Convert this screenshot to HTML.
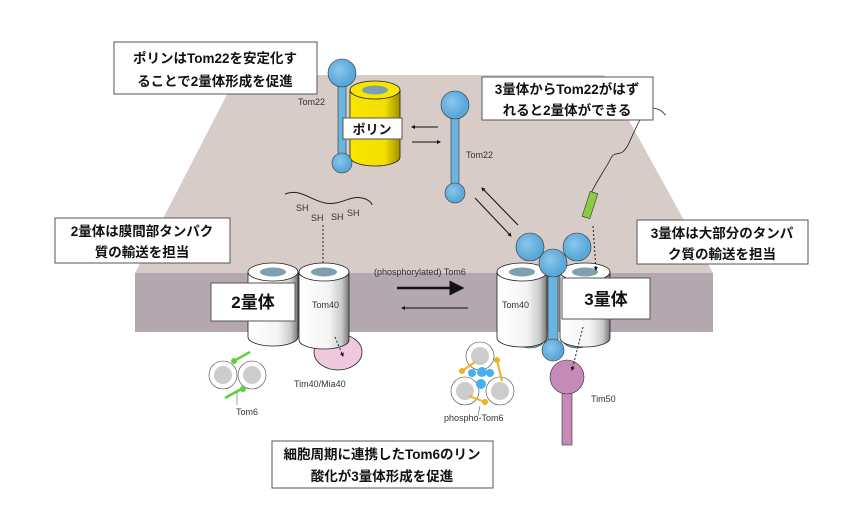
<!DOCTYPE html>
<html><head><meta charset="utf-8"><style>
body{margin:0;background:#fff}
svg{display:block}
text{font-family:"Liberation Sans","Noto Sans CJK JP",sans-serif}
.jp{font-family:"Liberation Sans","Noto Sans CJK JP",sans-serif;font-weight:bold;fill:#111}
.lb{font-size:9px;fill:#333}
</style></head><body>
<svg width="860" height="509" viewBox="0 0 860 509" xmlns="http://www.w3.org/2000/svg">
<defs>
<linearGradient id="cyl" x1="0" x2="1"><stop offset="0" stop-color="#fff"/><stop offset="0.6" stop-color="#f4f4f4"/><stop offset="0.85" stop-color="#ccc"/><stop offset="1" stop-color="#777"/></linearGradient>
<linearGradient id="yel" x1="0" x2="1"><stop offset="0" stop-color="#f7e600"/><stop offset="0.7" stop-color="#f2df00"/><stop offset="1" stop-color="#a09000"/></linearGradient>
<radialGradient id="blue" cx="0.4" cy="0.4"><stop offset="0" stop-color="#8cc6ec"/><stop offset="1" stop-color="#5aa8d8"/></radialGradient>
<marker id="ah" markerWidth="6" markerHeight="6" refX="5" refY="3" orient="auto"><path d="M0,0L6,3L0,6z" fill="#111"/></marker>
<marker id="ahb" markerWidth="4" markerHeight="4" refX="3" refY="2" orient="auto"><path d="M0,0L4,2L0,4z" fill="#111"/></marker>
</defs>
<!-- membrane -->
<polygon points="237,75 604,75 713,273 135,273" fill="#d7ccc7"/>
<rect x="135" y="273" width="578" height="59" fill="#b3a8b0"/>

<!-- Porin -->
<path d="M350,90 v67 a25,9 0 0 0 50,0 v-67z" fill="url(#yel)" stroke="#222" stroke-width="0.8"/>
<ellipse cx="375" cy="90" rx="25" ry="9" fill="#f7e600" stroke="#222" stroke-width="0.8"/>
<ellipse cx="375" cy="90" rx="13" ry="4.5" fill="#7f9fae"/>
<!-- Tom22 left -->
<rect x="338" y="75" width="8" height="88" fill="#6ab4e0" stroke="#333" stroke-width="0.6"/>
<circle cx="342" cy="73" r="14" fill="url(#blue)" stroke="#333" stroke-width="0.6"/>
<circle cx="342" cy="163" r="10" fill="url(#blue)" stroke="#333" stroke-width="0.6"/>
<text x="298" y="105" class="lb">Tom22</text>
<!-- Tom22 middle -->
<rect x="451" y="107" width="8" height="86" fill="#6ab4e0" stroke="#333" stroke-width="0.6"/>
<circle cx="455" cy="105" r="14" fill="url(#blue)" stroke="#333" stroke-width="0.6"/>
<circle cx="455" cy="193" r="10" fill="url(#blue)" stroke="#333" stroke-width="0.6"/>
<text x="466" y="158" class="lb">Tom22</text>
<line x1="438" y1="127" x2="412" y2="127" stroke="#111" marker-end="url(#ahb)"/>
<line x1="412" y1="142" x2="440" y2="142" stroke="#111" marker-end="url(#ahb)"/>
<line x1="518" y1="225" x2="482" y2="188" stroke="#111" marker-end="url(#ahb)"/>
<line x1="475" y1="198" x2="511" y2="236" stroke="#111" marker-end="url(#ahb)"/>

<!-- SH chain -->
<path d="M285,194 C300,188 310,200 325,203 C340,206 350,195 362,198 C368,199 372,203 372,205" fill="none" stroke="#222"/>
<g class="lb" font-size="8"><text x="296" y="211">SH</text><text x="311" y="221">SH</text><text x="331" y="220">SH</text><text x="347" y="216">SH</text></g>
<line x1="323" y1="225" x2="323" y2="268" stroke="#222" stroke-dasharray="2,2" marker-end="url(#ahb)"/>

<!-- 2-mer -->
<g stroke="#222" stroke-width="0.8">
<path d="M248,272 v65 a25,9 0 0 0 50,0 v-65z" fill="url(#cyl)"/>
<ellipse cx="273" cy="272" rx="25" ry="9" fill="#fff"/>
<ellipse cx="273" cy="272" rx="13" ry="4.5" fill="#7f9fae" stroke="none"/>
<ellipse cx="338" cy="352" rx="24" ry="18" fill="#f0c8e0"/>
<path d="M299,272 v68 a25,9 0 0 0 50,0 v-68z" fill="url(#cyl)"/>
<ellipse cx="324" cy="272" rx="25" ry="9" fill="#fff"/>
<ellipse cx="324" cy="272" rx="13" ry="4.5" fill="#7f9fae" stroke="none"/>
</g>
<text x="312" y="308" class="lb">Tom40</text>
<line x1="335" y1="337" x2="343" y2="356" stroke="#222" stroke-dasharray="2,2" marker-end="url(#ahb)"/>
<text x="294" y="387" class="lb">Tim40/Mia40</text>
<!-- Tom6 dimer -->
<g stroke="#444" stroke-width="0.6">
<circle cx="223" cy="375" r="14" fill="#fff"/><circle cx="223" cy="375" r="9" fill="#ccc" stroke="none"/>
<circle cx="252" cy="375" r="14" fill="#fff"/><circle cx="252" cy="375" r="9" fill="#ccc" stroke="none"/>
</g>
<g stroke="#5fd03a" stroke-width="2.5"><line x1="232" y1="362" x2="250" y2="352"/><line x1="225" y1="398" x2="243" y2="388"/></g>
<circle cx="234" cy="361" r="3" fill="#5fd03a"/><circle cx="243" cy="389" r="3" fill="#5fd03a"/>
<line x1="237" y1="392" x2="237" y2="405" stroke="#444" stroke-width="0.5"/>
<text x="236" y="415" class="lb" font-size="8">Tom6</text>

<!-- middle arrows -->
<text x="374" y="275" class="lb">(phosphorylated) Tom6</text>
<line x1="397" y1="288" x2="462" y2="288" stroke="#111" stroke-width="2.5" marker-end="url(#ah)"/>
<line x1="468" y1="308" x2="402" y2="308" stroke="#111" marker-end="url(#ahb)"/>

<!-- 3-mer -->
<g stroke="#333" stroke-width="0.6">
<ellipse cx="530" cy="340" rx="14" ry="8" fill="#6ab4e0"/>
<ellipse cx="577" cy="340" rx="14" ry="8" fill="#6ab4e0"/>
<circle cx="530" cy="247" r="14" fill="url(#blue)"/>
<circle cx="577" cy="247" r="14" fill="url(#blue)"/>
</g>
<g stroke="#222" stroke-width="0.8">
<path d="M497,272 v66 a25,9 0 0 0 50,0 v-66z" fill="url(#cyl)"/>
<ellipse cx="522" cy="272" rx="25" ry="9" fill="#fff"/>
<ellipse cx="522" cy="272" rx="13" ry="4.5" fill="#7f9fae" stroke="none"/>
<path d="M560,272 v66 a25,9 0 0 0 50,0 v-66z" fill="url(#cyl)"/>
<ellipse cx="585" cy="272" rx="25" ry="9" fill="#fff"/>
<ellipse cx="585" cy="272" rx="13" ry="4.5" fill="#7f9fae" stroke="none"/>
</g>
<rect x="548" y="265" width="10" height="85" fill="#6ab4e0" stroke="#333" stroke-width="0.6"/>
<circle cx="553" cy="263" r="14" fill="url(#blue)" stroke="#333" stroke-width="0.6"/>
<circle cx="553" cy="350" r="11" fill="url(#blue)" stroke="#333" stroke-width="0.6"/>
<text x="502" y="308" class="lb">Tom40</text>
<!-- Tim50 -->
<rect x="562" y="385" width="10" height="60" fill="#c58ab8" stroke="#333" stroke-width="0.6"/>
<circle cx="567" cy="377" r="17" fill="#c58ab8" stroke="#333" stroke-width="0.6"/>
<text x="591" y="402" class="lb">Tim50</text>
<line x1="583" y1="327" x2="572" y2="370" stroke="#222" stroke-dasharray="2,2" marker-end="url(#ahb)"/>
<!-- phospho Tom6 -->
<g stroke="#444" stroke-width="0.6">
<circle cx="480" cy="356" r="14" fill="#fff"/><circle cx="480" cy="356" r="9" fill="#ccc" stroke="none"/>
<circle cx="465" cy="391" r="14" fill="#fff"/><circle cx="465" cy="391" r="9" fill="#ccc" stroke="none"/>
<circle cx="500" cy="391" r="14" fill="#fff"/><circle cx="500" cy="391" r="9" fill="#ccc" stroke="none"/>
</g>
<g fill="#44b0f0"><circle cx="482" cy="372" r="5"/><circle cx="472" cy="373" r="4"/><circle cx="490" cy="373" r="4"/><circle cx="481" cy="384" r="5"/></g>
<g stroke="#f0b020" stroke-width="2"><line x1="475" y1="362" x2="462" y2="371"/><line x1="497" y1="360" x2="502" y2="381"/><line x1="469" y1="396" x2="485" y2="402"/></g>
<g fill="#f0b020"><circle cx="462" cy="371" r="3"/><circle cx="497" cy="360" r="3"/><circle cx="485" cy="402" r="3"/></g>
<line x1="480" y1="406" x2="478" y2="416" stroke="#444" stroke-width="0.5"/>
<text x="444" y="421" class="lb" font-size="8">phospho-Tom6</text>
<!-- green presequence -->
<path d="M590,195 C600,175 605,170 610,160 C615,148 620,160 628,145 C635,130 640,118 645,112 C650,106 655,108 660,110 C664,112 664,115 666,115" fill="none" stroke="#222" stroke-width="0.8"/>
<rect x="586" y="192" width="8" height="26" fill="#88cc40" stroke="#333" stroke-width="0.6" transform="rotate(18 590 205)"/>
<line x1="593" y1="226" x2="596" y2="270" stroke="#222" stroke-dasharray="2,2" marker-end="url(#ahb)"/>

<!-- text boxes -->
<g fill="#fff" stroke="#555" stroke-width="1">
<rect x="114" y="42" width="203" height="52"/>
<rect x="482" y="77" width="171" height="43"/>
<rect x="55" y="218" width="175" height="45"/>
<rect x="637" y="220" width="171" height="44"/>
<rect x="211" y="283" width="84" height="38"/>
<rect x="562" y="278" width="88" height="41"/>
<rect x="343" y="118" width="59" height="21"/>
<rect x="272" y="441" width="221" height="47"/>
</g>
<g class="jp" font-size="13.5" text-anchor="middle">
<text x="215" y="63">ポリンはTom22を安定化す</text>
<text x="215" y="86">ることで2量体形成を促進</text>
<text x="567" y="94">3量体からTom22がはず</text>
<text x="567" y="115">れると2量体ができる</text>
<text x="142" y="236">2量体は膜間部タンパク</text>
<text x="142" y="257">質の輸送を担当</text>
<text x="722" y="238">3量体は大部分のタンパ</text>
<text x="722" y="259">ク質の輸送を担当</text>
<text x="382" y="459">細胞周期に連携したTom6のリン</text>
<text x="382" y="481">酸化が3量体形成を促進</text>
<text x="372" y="134" font-size="13">ポリン</text>
<text x="253" y="308" font-size="17">2量体</text>
<text x="606" y="305" font-size="17">3量体</text>
</g>
</svg>
</body></html>
